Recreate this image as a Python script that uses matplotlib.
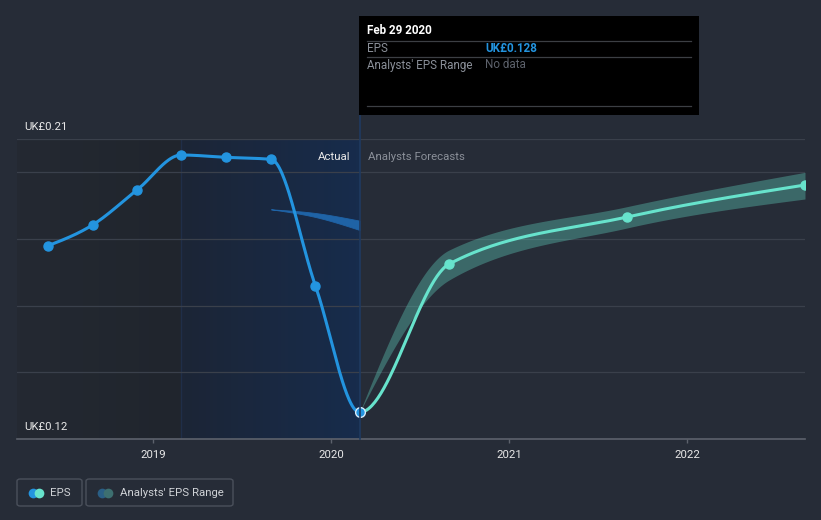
import numpy as np
import pandas as pd
import matplotlib

matplotlib.use("Agg")
import matplotlib.pyplot as plt
from matplotlib.patches import Rectangle, FancyBboxPatch
from matplotlib.lines import Line2D

plt.rcParams["font.family"] = ["Roboto", "DejaVu Sans"]

# ---- data ----
actual_dates = ["2018-05-31", "2018-08-31", "2018-11-30", "2019-02-28",
                "2019-05-31", "2019-08-31", "2019-11-30", "2020-02-29"]
actual_eps = [0.178, 0.1843, 0.1948, 0.2052, 0.2045, 0.2039, 0.166, 0.128]

forecast_dates = ["2020-02-29", "2020-08-31", "2021-08-31", "2022-08-31"]
forecast_eps = [0.128, 0.1725, 0.1866, 0.1962]
range_low = [0.128, 0.1677, 0.1833, 0.1920]
range_high = [0.128, 0.1767, 0.1897, 0.2000]

# old analyst range shown inside the "actual" period
past_range_dates = ["2019-08-31", "2019-11-30", "2020-02-29"]
past_range_low = [0.1889, 0.1866, 0.1827]
past_range_high = [0.1889, 0.1878, 0.1855]

year_ticks = [2019, 2020, 2021, 2022]

BG = "#262c37"
BLUE = "#2394df"
MINT = "#67e3cc"
W, H = 821, 520


def to_year(dates):
    d = pd.to_datetime(pd.Series(dates))
    start = pd.to_datetime(d.dt.year.astype(str) + "-01-01")
    ndays = np.where(d.dt.is_leap_year, 366, 365)
    return (d.dt.year + (d - start).dt.days / ndays).to_numpy(dtype=float)


def monotone(x, y, n=60):
    """monotone cubic (like d3 curveMonotoneX)"""
    x = np.asarray(x, float)
    y = np.asarray(y, float)
    h = np.diff(x)
    s = np.diff(y) / h
    m = np.zeros(len(x))
    for i in range(1, len(x) - 1):
        p = (s[i - 1] * h[i] + s[i] * h[i - 1]) / (h[i - 1] + h[i])
        m[i] = (np.sign(s[i - 1]) + np.sign(s[i])) * min(abs(s[i - 1]), abs(s[i]), 0.5 * abs(p))
    if len(x) > 2:
        m[0] = (3 * s[0] - m[1]) / 2
        m[-1] = (3 * s[-1] - m[-2]) / 2
    else:
        m[:] = s[0]
    xs, ys = [], []
    for i in range(len(x) - 1):
        t = np.linspace(0, 1, n)
        h00 = 2 * t**3 - 3 * t**2 + 1
        h10 = t**3 - 2 * t**2 + t
        h01 = -2 * t**3 + 3 * t**2
        h11 = t**3 - t**2
        xs.append(x[i] + t * h[i])
        ys.append(h00 * y[i] + h10 * h[i] * m[i] + h01 * y[i + 1] + h11 * h[i] * m[i + 1])
    return np.concatenate(xs), np.concatenate(ys)


xa = to_year(actual_dates)
xf = to_year(forecast_dates)
xp = to_year(past_range_dates)
x_left, x_right = 2018.236, 2022.663

fig = plt.figure(figsize=(W / 100, H / 100), dpi=100, facecolor=BG)
ax = fig.add_axes([17 / W, 1 - 439 / H, (805 - 17) / W, (439 - 139) / H])
ax.set_facecolor(BG)
ax.set_xlim(x_left, x_right)
ax.set_ylim(0.12, 0.21)

# shaded background regions
ax.imshow(np.linspace(0, 1, 50)[None, :], aspect="auto", zorder=0,
          extent=[x_left, xa[3], 0.12, 0.21],
          cmap=matplotlib.colors.LinearSegmentedColormap.from_list("d", ["#242932", "#20252d"]))
ax.imshow(np.linspace(0, 1, 50)[None, :], aspect="auto", zorder=0,
          extent=[xa[3], xa[-1], 0.12, 0.21],
          cmap=matplotlib.colors.LinearSegmentedColormap.from_list("h", ["#1c2536", "#172c4c"]))
ax.axvline(xa[3], color="#1f2e48", lw=1, zorder=0.5)

for yv in [0.14, 0.16, 0.18, 0.20, 0.21]:
    ax.axhline(yv, color="#3a404b", lw=0.9, zorder=1)

# past analyst range
px, plo = monotone(xp, past_range_low)
_, phi = monotone(xp, past_range_high)
ax.fill_between(px, plo, phi, color="#1f63a6", lw=0.6, edgecolor="#1f63a6", zorder=2)

# forecast range band
bx, blo = monotone(xf, range_low)
_, bhi = monotone(xf, range_high)
ax.fill_between(bx, blo, bhi, color=MINT, alpha=0.33, lw=0, zorder=2)

# one smooth curve through actual + forecast, coloured by period
all_x = np.concatenate([xa, xf[1:]])
all_y = np.concatenate([actual_eps, forecast_eps[1:]])
cx, cy = monotone(all_x, all_y)
past = cx <= xa[-1]
ax.plot(cx[past], cy[past], color=BLUE, lw=2.2, zorder=4, solid_capstyle="round")
ax.plot(cx[~past | (cx == xa[-1])], cy[~past | (cx == xa[-1])], color=MINT, lw=2.2, zorder=4,
        solid_capstyle="round")
ax.plot(xa[:-1], actual_eps[:-1], "o", color=BLUE, ms=6.5, zorder=5)
ax.plot(xf[1:], forecast_eps[1:], "o", color=MINT, ms=6.5, zorder=5)
ax.plot(xa[-1:], actual_eps[-1:], "o", color=BLUE, ms=7, mec="#d8ecfb", mew=1.0, zorder=6)

ax.text(xa[-1] - 0.05, 0.2045, "Actual", color="#e8e8e8", fontsize=8.2, ha="right", va="center", zorder=6)
ax.text(xa[-1] + 0.045, 0.2045, "Analysts Forecasts", color="#8b9099", fontsize=8.2, ha="left", va="center", zorder=6)

for s in ["top", "right", "left"]:
    ax.spines[s].set_visible(False)
ax.spines["bottom"].set_color("#5d626c")
ax.spines["bottom"].set_linewidth(1.2)
ax.set_yticks([])
ax.set_xticks(year_ticks)
ax.set_xticklabels([str(y) for y in year_ticks])
ax.tick_params(axis="x", colors="#5d626c", labelcolor="#e8e8e8", length=3, width=1, pad=5, labelsize=8.2)

# vertical marker at the last actual point, up to the tooltip
fx0 = 17 / W + (xa[-1] - x_left) / (x_right - x_left) * (805 - 17) / W
fig.add_artist(Line2D([fx0, fx0], [1 - 439 / H, 1 - 115 / H], color="#1f3a60", lw=1.2, zorder=3))

# y labels
fig.text(24 / W, 1 - 127 / H, "UK£0.21", color="#e8e8e8", fontsize=8.2, va="center")
fig.text(24 / W, 1 - 427 / H, "UK£0.12", color="#e8e8e8", fontsize=8.2, va="center")

# tooltip
fig.add_artist(Rectangle((359 / W, 1 - 115 / H), (699 - 359) / W, (115 - 16) / H, facecolor="black", edgecolor="none", zorder=7))
fig.text(367 / W, 1 - 31 / H, "Feb 29 2020", color="white", fontsize=8.4, fontweight="bold", va="center", zorder=8)
for yy in [41, 57, 106]:
    fig.add_artist(Line2D([367 / W, 691 / W], [1 - yy / H] * 2, color="#3c3f44", lw=0.9, zorder=8))
fig.text(367 / W, 1 - 48.5 / H, "EPS", color="#8b9099", fontsize=8.4, va="center", zorder=8)
fig.text(485 / W, 1 - 48.5 / H, "UK£0.128", color=BLUE, fontsize=8.4, fontweight="bold", va="center", zorder=8)
fig.text(367 / W, 1 - 65 / H, "Analysts' EPS Range", color="#8b9099", fontsize=8.4, va="center", zorder=8)
fig.text(485 / W, 1 - 65 / H, "No data", color="#5d626c", fontsize=8.4, va="center", zorder=8)

# legend boxes
for x0, x1 in [(17, 82), (86, 233)]:
    fig.add_artist(FancyBboxPatch((x0 / W, 1 - 506 / H), (x1 - x0) / W, (506 - 479) / H,
                                  boxstyle="round,pad=0,rounding_size=0.004", facecolor="none",
                                  edgecolor="#4a505b", lw=1, zorder=5))
for cx_, col in [(33, BLUE), (39, MINT), (102, "#2a5f86"), (108, "#3d6f70")]:
    fig.add_artist(Line2D([cx_ / W], [1 - 493 / H], marker="o", ms=7, color=col, mec="none",
                          ls="none", zorder=6))
fig.text(50 / W, 1 - 493 / H, "EPS", color="#cfd2d6", fontsize=8.2, va="center")
fig.text(120 / W, 1 - 493 / H, "Analysts' EPS Range", color="#cfd2d6", fontsize=8.2, va="center")

fig.savefig("out.png", dpi=100, facecolor=BG)
